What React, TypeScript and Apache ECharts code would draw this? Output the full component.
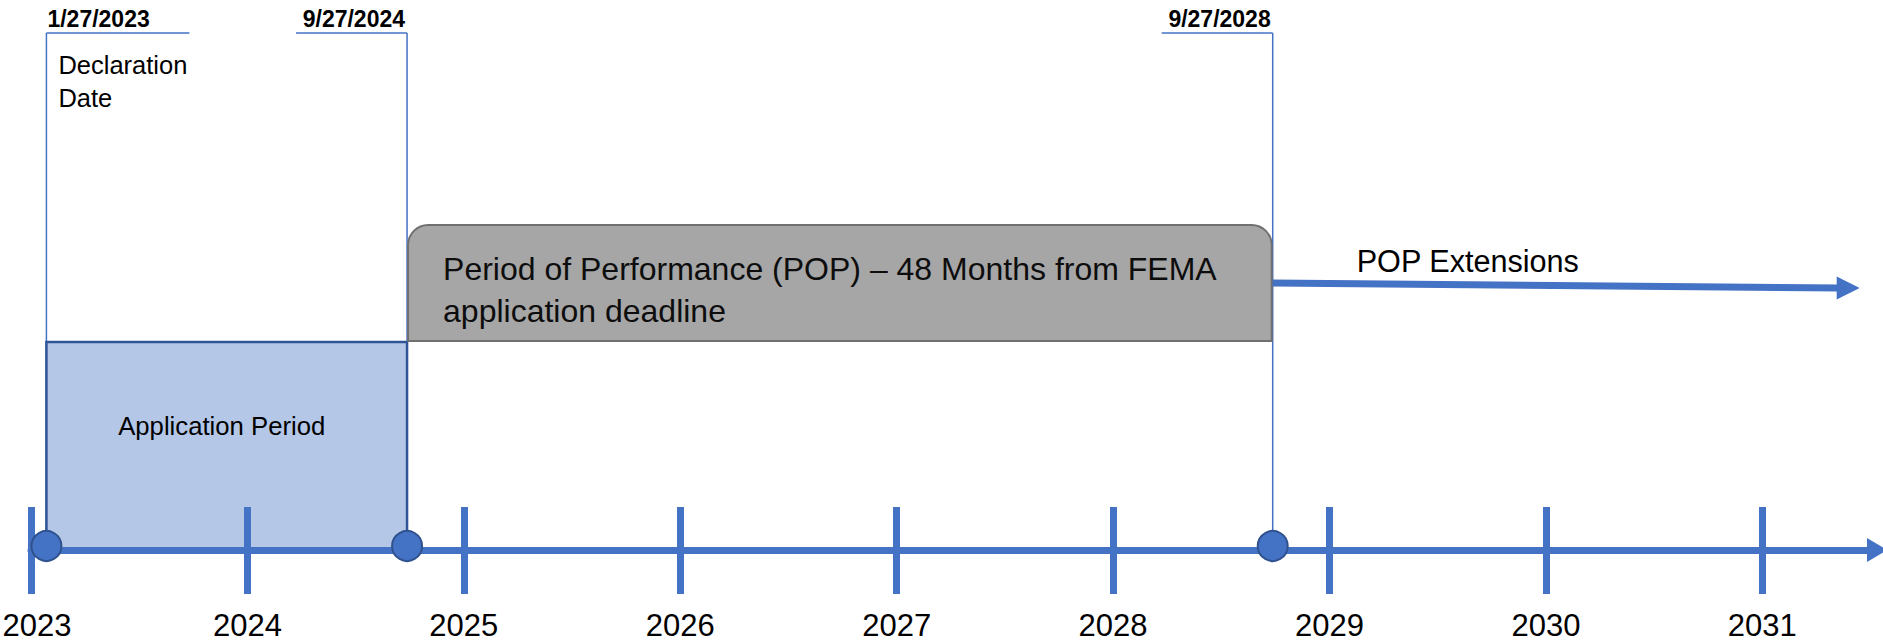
import React, { useEffect, useRef } from 'react';
import * as echarts from 'echarts';

// ---------- data ----------
const tickYears = [2023, 2024, 2025, 2026, 2027, 2028, 2029, 2030, 2031];
const axisRange = [2023, 2031.53];
const milestoneDates = ['2023-01-27', '2024-09-27', '2028-09-27'];
const milestoneLabels = ['1/27/2023', '9/27/2024', '9/27/2028'];
const milestoneNotes = ['Declaration\nDate', '', ''];
const periodNames = [
  'Application Period',
  'Period of Performance (POP) – 48 Months from FEMA\napplication deadline',
];
const periodStarts = ['2023-01-27', '2024-09-27'];
const periodEnds = ['2024-09-27', '2028-09-27'];
const extensionName = 'POP Extensions';
const extensionStart = '2028-09-27';
const extensionEnd = 2031.45; // open-ended arrow tip (decimal year)

// ---------- helpers / styles ----------
function toYear(iso: string): number {
  const [y, m, d] = iso.split('-').map(Number);
  const s = Date.UTC(y, 0, 1);
  const n = Date.UTC(y + 1, 0, 1);
  return y + (Date.UTC(y, m - 1, d) - s) / (n - s);
}

const FONT = "'Liberation Sans', Arial, sans-serif";
const BLUE = '#4472C4';
const DARK_BLUE = '#2F528F';
const LEADER_TOP = 33;
const APP_TOP = 342;
const POP_TOP = 225;
const POP_BOTTOM = 341;

export default function App() {
  const ref = useRef<HTMLDivElement>(null);

  useEffect(() => {
    if (!ref.current) return;
    const chart = echarts.init(ref.current, undefined, { renderer: 'svg' });

    const periodData = periodStarts.map((s, i) => [toYear(s), toYear(periodEnds[i])]);
    const milestoneData = milestoneDates.map((d) => [toYear(d), 0]);
    const extensionData = [[toYear(extensionStart), extensionEnd]];

    const option: any = {
      animation: false,
      backgroundColor: '#ffffff',
      grid: { left: 31, right: 6, top: 0, bottom: 94, containLabel: false, outerBoundsMode: 'none' },
      xAxis: [
        {
          type: 'value',
          min: axisRange[0],
          max: axisRange[1],
          interval: 1,
          z: 10,
          axisLine: {
            show: true,
            onZero: false,
            lineStyle: { color: BLUE, width: 7 },
            symbol: ['none', 'triangle'],
            symbolSize: [24, 20],
          },
          axisTick: {
            show: true,
            inside: false,
            length: 44,
            customValues: tickYears,
            lineStyle: { color: BLUE, width: 7 },
          },
          axisLabel: {
            show: true,
            customValues: tickYears,
            margin: 60,
            fontSize: 31,
            lineHeight: 31,
            fontFamily: FONT,
            color: '#000',
            formatter: (v: number) => (v === tickYears[0] ? `{first|${v}}` : String(v)),
            rich: {
              first: {
                padding: [0, 0, 0, 12],
                fontSize: 31,
                lineHeight: 31,
                fontFamily: FONT,
                color: '#000',
              },
            },
          },
          splitLine: { show: false },
        },
        {
          type: 'value',
          min: axisRange[0],
          max: axisRange[1],
          interval: 1,
          position: 'bottom',
          z: 10,
          axisLine: { show: false, onZero: false },
          axisTick: {
            show: true,
            inside: true,
            length: 43,
            customValues: tickYears,
            lineStyle: { color: BLUE, width: 7 },
          },
          axisLabel: { show: false },
          splitLine: { show: false },
        },
      ],
      yAxis: { type: 'value', min: 0, max: 550, show: false },
      series: [
        {
          type: 'custom',
          name: 'leaders',
          z: 1,
          silent: true,
          data: milestoneData,
          renderItem: (params: any, api: any) => {
            const i = params.dataIndex;
            const p = api.coord([api.value(0), 0]);
            const x = p[0];
            const leftLen = 111;
            const rightLen = 143;
            const toRight = x - leftLen < 0;
            const children: any[] = [
              {
                type: 'line',
                shape: { x1: x, y1: LEADER_TOP, x2: x, y2: p[1] },
                style: { stroke: BLUE, lineWidth: 1.5 },
              },
              {
                type: 'line',
                shape: { x1: x, y1: LEADER_TOP, x2: toRight ? x + rightLen : x - leftLen, y2: LEADER_TOP },
                style: { stroke: BLUE, lineWidth: 1.5 },
              },
              {
                type: 'text',
                style: {
                  text: milestoneLabels[i],
                  x: toRight ? x + 1 : x - 2,
                  y: LEADER_TOP - 14,
                  align: toRight ? 'left' : 'right',
                  verticalAlign: 'middle',
                  fontSize: 23,
                  fontWeight: 'bold',
                  fontFamily: FONT,
                  fill: '#000',
                },
              },
            ];
            if (milestoneNotes[i]) {
              children.push({
                type: 'text',
                style: {
                  text: milestoneNotes[i],
                  x: x + 12,
                  y: 48.5,
                  align: 'left',
                  verticalAlign: 'top',
                  fontSize: 25.5,
                  lineHeight: 33,
                  fontFamily: FONT,
                  fill: '#000',
                },
              });
            }
            return { type: 'group', children };
          },
        },
        {
          type: 'custom',
          name: 'periods',
          z: 2,
          silent: true,
          data: periodData,
          renderItem: (params: any, api: any) => {
            const i = params.dataIndex;
            const s = api.coord([api.value(0), 0]);
            const e = api.coord([api.value(1), 0]);
            const axisY = s[1];
            if (i === 0) {
              return {
                type: 'group',
                children: [
                  {
                    type: 'rect',
                    shape: { x: s[0], y: APP_TOP, width: e[0] - s[0], height: axisY - APP_TOP },
                    style: { fill: '#B4C7E7', stroke: '#2F5597', lineWidth: 2.5 },
                  },
                  {
                    type: 'text',
                    style: {
                      text: periodNames[i],
                      x: (s[0] + e[0]) / 2 - 5,
                      y: APP_TOP + 84,
                      align: 'center',
                      verticalAlign: 'middle',
                      fontSize: 25.7,
                      fontFamily: FONT,
                      fill: '#000',
                    },
                  },
                ],
              };
            }
            return {
              type: 'group',
              children: [
                {
                  type: 'rect',
                  shape: {
                    x: s[0] + 1,
                    y: POP_TOP,
                    width: e[0] - s[0] - 2,
                    height: POP_BOTTOM - POP_TOP,
                    r: [20, 20, 0, 0],
                  },
                  style: { fill: '#A6A6A6', stroke: '#707070', lineWidth: 2 },
                },
                {
                  type: 'text',
                  style: {
                    text: periodNames[i],
                    x: s[0] + 36,
                    y: POP_TOP + 23,
                    align: 'left',
                    verticalAlign: 'top',
                    fontSize: 32,
                    lineHeight: 42,
                    fontFamily: FONT,
                    fill: '#0d0d0d',
                  },
                },
              ],
            };
          },
        },
        {
          type: 'custom',
          name: 'extension',
          z: 3,
          silent: true,
          data: extensionData,
          renderItem: (params: any, api: any) => {
            const s = api.coord([api.value(0), 0]);
            const e = api.coord([api.value(1), 0]);
            const y0 = (POP_TOP + POP_BOTTOM) / 2;
            const y1 = y0 + 5;
            return {
              type: 'group',
              children: [
                {
                  type: 'line',
                  shape: { x1: s[0], y1: y0, x2: e[0] - 20, y2: y1 },
                  style: { stroke: BLUE, lineWidth: 7 },
                },
                {
                  type: 'polygon',
                  shape: {
                    points: [
                      [e[0] - 23, y1 - 11.5],
                      [e[0], y1],
                      [e[0] - 23, y1 + 11.5],
                    ],
                  },
                  style: { fill: BLUE },
                },
                {
                  type: 'text',
                  style: {
                    text: extensionName,
                    x: s[0] + 84,
                    y: y0 - 22,
                    align: 'left',
                    verticalAlign: 'middle',
                    fontSize: 30.6,
                    fontFamily: FONT,
                    fill: '#000',
                  },
                },
              ],
            };
          },
        },
        {
          type: 'scatter',
          name: 'milestones',
          z: 20,
          silent: true,
          symbol: 'circle',
          symbolSize: 30,
          symbolOffset: [0, -4],
          itemStyle: { color: BLUE, borderColor: DARK_BLUE, borderWidth: 2, opacity: 1 },
          data: milestoneData,
        },
      ],
    };

    chart.setOption(option);
    return () => chart.dispose();
  }, []);

  return (
    <div
      ref={ref}
      style={{ position: 'fixed', left: 0, top: 0, width: '1883px', height: '644px', background: '#fff' }}
    />
  );
}
